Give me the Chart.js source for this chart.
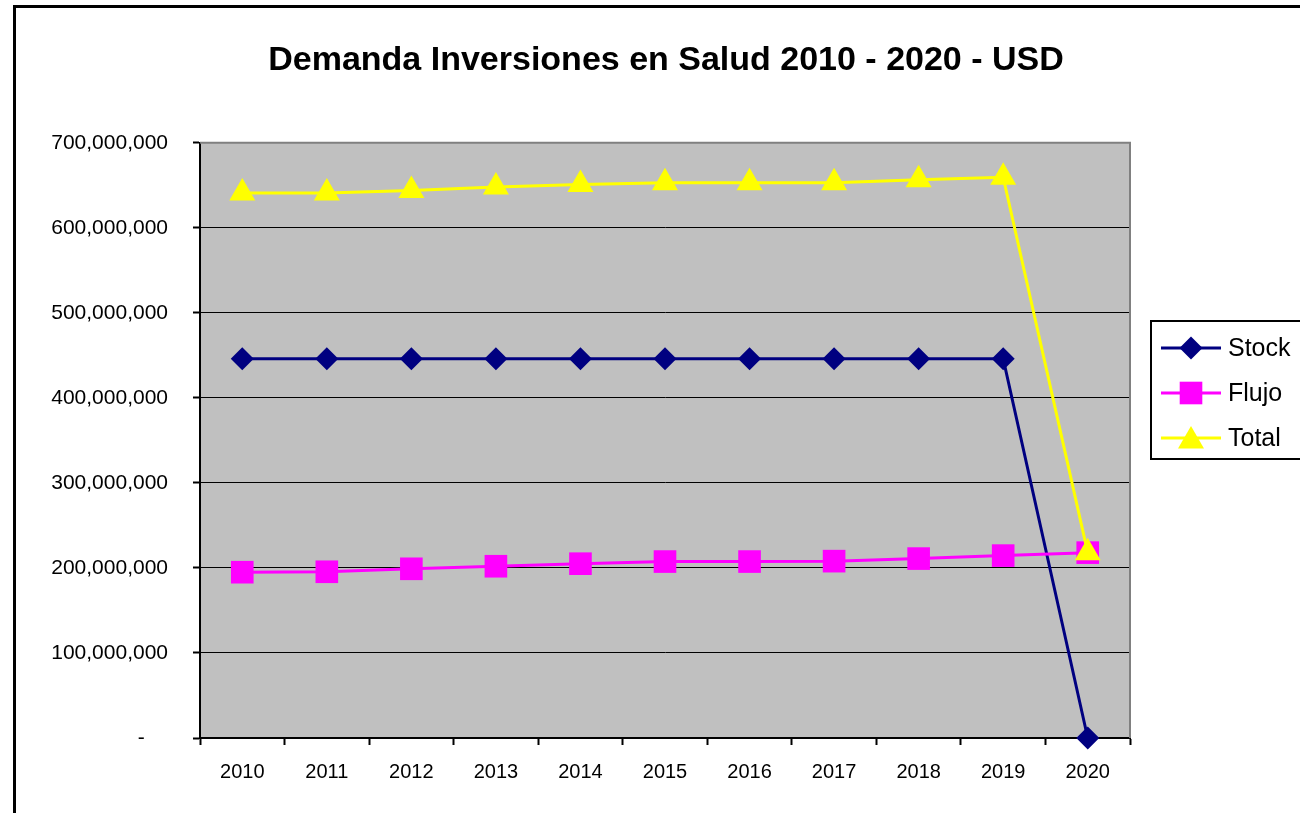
<!DOCTYPE html>
<html>
<head>
<meta charset="utf-8">
<script src="https://cdn.jsdelivr.net/npm/chart.js@4"></script>
<style>
  html, body { margin: 0; padding: 0; background: #fff; }
  #wrap { width: 1300px; height: 813px; position: relative; }
</style>
</head>
<body>
<div id="wrap"><canvas id="chart-1" width="1300" height="813"></canvas></div>
<script>
const years = ['2010', '2011', '2012', '2013', '2014', '2015', '2016', '2017', '2018', '2019', '2020']
const stock = [446e6, 446e6, 446e6, 446e6, 446e6, 446e6, 446e6, 446e6, 446e6, 446e6, 0]
const flujo = [195e6, 195.5e6, 199e6, 202e6, 205e6, 207.5e6, 207.5e6, 208e6, 211e6, 214.5e6, 218e6]
const total = [641e6, 641e6, 644e6, 648e6, 651e6, 653e6, 653e6, 653e6, 656.5e6, 659.5e6, 218e6]
const seriesNames = ['Stock', 'Flujo', 'Total']

const FONT = 'Arial, "Liberation Sans", sans-serif'

// gray plot area + outer frame
const frameBg = {
    id: 'frameBg',
    beforeDraw(chart) {
        const { ctx, chartArea: a } = chart
        ctx.save()
        ctx.fillStyle = '#fff'
        ctx.fillRect(0, 0, chart.width, chart.height)
        ctx.fillStyle = '#C0C0C0'
        ctx.fillRect(a.left, a.top, a.right - a.left, a.bottom - a.top)
        ctx.lineWidth = 3
        ctx.strokeStyle = '#000'
        ctx.strokeRect(14.5, 6.5, 1400, 1000)
        ctx.restore()
    },
    beforeDatasetsDraw(chart) {
        const { ctx, chartArea: a } = chart
        ctx.save()
        ctx.strokeStyle = '#808080'
        ctx.lineWidth = 2
        ctx.beginPath()
        ctx.moveTo(a.left, a.top)
        ctx.lineTo(a.right, a.top)
        ctx.lineTo(a.right, a.bottom)
        ctx.stroke()
        ctx.restore()
    }
}

// Excel-like legend: line sample with marker
const boxLegend = {
    id: 'boxLegend',
    afterDraw(chart) {
        const { ctx } = chart
        const x0 = 1151, y0 = 321
        ctx.save()
        ctx.lineWidth = 2
        ctx.strokeStyle = '#000'
        ctx.strokeRect(x0, y0, 200, 138)
        ctx.font = '25px ' + FONT
        ctx.textBaseline = 'middle'
        ctx.textAlign = 'left'
        seriesNames.forEach((name, i) => {
            const ds = chart.data.datasets.find(d => d.label === name)
            const y = y0 + 27 + i * 45
            ctx.strokeStyle = ds.borderColor
            ctx.lineWidth = 3
            ctx.beginPath()
            ctx.moveTo(x0 + 10, y)
            ctx.lineTo(x0 + 70, y)
            ctx.stroke()
            ctx.fillStyle = ds.pointBackgroundColor
            Chart.helpers.drawPoint(ctx, {
                pointStyle: ds.pointStyle, radius: ds.pointRadius, borderWidth: 0, rotation: 0
            }, x0 + 40, y + (ds.pointStyle === 'triangle' ? 3 : 0))
            ctx.fillStyle = '#000'
            ctx.fillText(name, x0 + 77, y + 1)
        })
        ctx.restore()
    }
}

const ctx1 = document.getElementById('chart-1')

new Chart(ctx1, {
    type: 'line',
    data: {
        labels: years,
        datasets: [
            {
                label: 'Stock',
                data: stock,
                borderColor: '#000080',
                backgroundColor: '#000080',
                pointBackgroundColor: '#000080',
                pointBorderWidth: 0,
                pointStyle: 'rectRot',
                pointRadius: 11.5,
                borderWidth: 3,
                order: 2,
                clip: false
            },
            {
                label: 'Flujo',
                data: flujo,
                borderColor: '#FF00FF',
                backgroundColor: '#FF00FF',
                pointBackgroundColor: '#FF00FF',
                pointBorderWidth: 0,
                pointStyle: 'rect',
                pointRadius: 16,
                borderWidth: 3,
                order: 1,
                clip: false
            },
            {
                label: 'Total',
                data: total,
                borderColor: '#FFFF00',
                backgroundColor: '#FFFF00',
                pointBackgroundColor: '#FFFF00',
                pointBorderWidth: 0,
                pointStyle: 'triangle',
                pointRadius: 15,
                borderWidth: 3,
                order: 0,
                clip: false
            }
        ]
    },
    options: {
        responsive: false,
        animation: false,
        layout: { padding: { left: 32, right: 0, top: 0, bottom: 0 } },
        plugins: {
            legend: { display: false },
            tooltip: { enabled: false },
            title: {
                display: true,
                text: 'Demanda Inversiones en Salud 2010 - 2020 - USD',
                color: '#000',
                font: { family: FONT, size: 34, weight: 'bold' },
                padding: { top: 40, bottom: 62 }
            }
        },
        scales: {
            x: {
                offset: true,
                afterFit: s => { s.height = 75 },
                grid: {
                    offset: true,
                    drawOnChartArea: false,
                    drawTicks: true,
                    tickLength: 7,
                    tickWidth: 2,
                    tickColor: '#000'
                },
                border: { color: '#000', width: 2 },
                ticks: {
                    color: '#000',
                    padding: 15,
                    maxRotation: 0,
                    font: { family: FONT, size: 20 }
                }
            },
            y: {
                min: 0,
                max: 700000000,
                afterFit: s => { s.width = 168 },
                grid: {
                    color: '#000',
                    lineWidth: 1,
                    tickLength: 7,
                    tickWidth: 2,
                    tickColor: '#000'
                },
                border: { color: '#000', width: 2 },
                ticks: {
                    stepSize: 100000000,
                    color: '#000',
                    padding: 25,
                    font: { family: FONT, size: 21 },
                    callback: v => v === 0 ? '-    ' : v.toLocaleString('en-US')
                }
            },
            // empty right band that holds the legend
            legendBand: {
                position: 'right',
                afterFit: s => { s.width = 170 },
                grid: { display: false },
                border: { display: false },
                ticks: { display: false }
            }
        }
    },
    plugins: [frameBg, boxLegend]
});
</script>
</body>
</html>
